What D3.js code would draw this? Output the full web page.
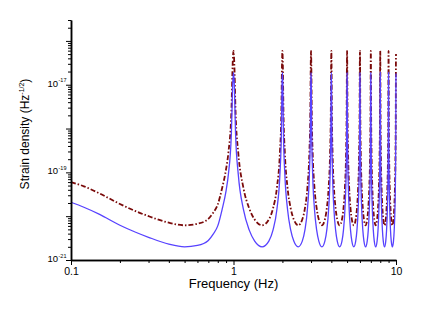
<!DOCTYPE html>
<html>
<head>
<meta charset="utf-8">
<script src="https://cdn.jsdelivr.net/npm/d3@7"></script>
<style>
  body { margin: 0; background: #fff; }
  text { font-family: "Liberation Sans", Arial, sans-serif; }
</style>
</head>
<body>
<div id="chart"></div>
<script>
// frequency samples (Hz)
const freq = [
  0.1, 0.12, 0.15, 0.2, 0.25, 0.3, 0.4, 0.5, 0.6, 0.7, 0.75, 0.8, 0.85, 0.9, 0.93, 0.97, 0.99, 1,
  1.01, 1.03, 1.07, 1.15, 1.25, 1.35, 1.5, 1.65, 1.75, 1.85, 1.93, 1.97, 1.99, 2,
  2.01, 2.03, 2.07, 2.15, 2.25, 2.35, 2.5, 2.65, 2.75, 2.85, 2.93, 2.97, 2.99, 3,
  3.01, 3.03, 3.07, 3.15, 3.25, 3.35, 3.5, 3.65, 3.75, 3.85, 3.93, 3.97, 3.99, 4,
  4.01, 4.03, 4.07, 4.15, 4.25, 4.35, 4.5, 4.65, 4.75, 4.85, 4.93, 4.97, 4.99, 5,
  5.01, 5.03, 5.07, 5.15, 5.25, 5.35, 5.5, 5.65, 5.75, 5.85, 5.93, 5.97, 5.99, 6,
  6.01, 6.03, 6.07, 6.15, 6.25, 6.35, 6.5, 6.65, 6.75, 6.85, 6.93, 6.97, 6.99, 7,
  7.01, 7.03, 7.07, 7.15, 7.25, 7.35, 7.5, 7.65, 7.75, 7.85, 7.93, 7.97, 7.99, 8,
  8.01, 8.03, 8.07, 8.15, 8.25, 8.35, 8.5, 8.65, 8.75, 8.85, 8.93, 8.97, 8.99, 9,
  9.01, 9.03, 9.07, 9.15, 9.25, 9.35, 9.5, 9.65, 9.75, 9.85, 9.93, 9.97, 9.99, 10
];

// solid blue curve
const strainBlue = [
  2.08e-20, 1.6e-20, 1.1e-20, 6.2e-21, 4.3e-21, 3.3e-21, 2.3e-21, 2.0e-21, 2.15e-21, 2.8e-21, 3.9e-21, 6e-21, 1.4e-20, 3.8e-20, 9e-20, 7.4e-19, 1.14e-17, 1.9e-17,
  1.14e-17, 7.4e-19, 9e-20, 1.44e-20, 4.8e-21, 2.7e-21, 2e-21, 2.7e-21, 4.8e-21, 1.44e-20, 9e-20, 7.4e-19, 1.14e-17, 1.9e-17,
  1.14e-17, 7.4e-19, 9e-20, 1.44e-20, 4.8e-21, 2.7e-21, 2e-21, 2.7e-21, 4.8e-21, 1.44e-20, 9e-20, 7.4e-19, 1.14e-17, 1.9e-17,
  1.14e-17, 7.4e-19, 9e-20, 1.44e-20, 4.8e-21, 2.7e-21, 2e-21, 2.7e-21, 4.8e-21, 1.44e-20, 9e-20, 7.4e-19, 1.14e-17, 1.9e-17,
  1.14e-17, 7.4e-19, 9e-20, 1.44e-20, 4.8e-21, 2.7e-21, 2e-21, 2.7e-21, 4.8e-21, 1.44e-20, 9e-20, 7.4e-19, 1.14e-17, 1.9e-17,
  1.14e-17, 7.4e-19, 9e-20, 1.44e-20, 4.8e-21, 2.7e-21, 2e-21, 2.7e-21, 4.8e-21, 1.44e-20, 9e-20, 7.4e-19, 1.14e-17, 1.9e-17,
  1.14e-17, 7.4e-19, 9e-20, 1.44e-20, 4.8e-21, 2.7e-21, 2e-21, 2.7e-21, 4.8e-21, 1.44e-20, 9e-20, 7.4e-19, 1.14e-17, 1.9e-17,
  1.14e-17, 7.4e-19, 9e-20, 1.44e-20, 4.8e-21, 2.7e-21, 2e-21, 2.7e-21, 4.8e-21, 1.44e-20, 9e-20, 7.4e-19, 1.14e-17, 1.9e-17,
  1.14e-17, 7.4e-19, 9e-20, 1.44e-20, 4.8e-21, 2.7e-21, 2e-21, 2.7e-21, 4.8e-21, 1.44e-20, 9e-20, 7.4e-19, 1.14e-17, 1.9e-17,
  1.14e-17, 7.4e-19, 9e-20, 1.44e-20, 4.8e-21, 2.7e-21, 2e-21, 2.7e-21, 4.8e-21, 1.44e-20, 9e-20, 7.4e-19, 1.14e-17, 1.8e-17
];

// dash-dot dark red curve
const strainRed = [
  6.0e-20, 4.8e-20, 3.3e-20, 1.9e-20, 1.3e-20, 1.0e-20, 7.1e-21, 6.2e-21, 6.7e-21, 8.7e-21, 1.2e-20, 1.85e-20, 4.3e-20, 1.18e-19, 2.8e-19, 2.3e-18, 3.5e-17, 5.9e-17,
  3.5e-17, 2.3e-18, 2.8e-19, 4.5e-20, 1.5e-20, 8.4e-21, 6.2e-21, 8.4e-21, 1.5e-20, 4.5e-20, 2.8e-19, 2.3e-18, 3.5e-17, 5.9e-17,
  3.5e-17, 2.3e-18, 2.8e-19, 4.5e-20, 1.5e-20, 8.4e-21, 6.2e-21, 8.4e-21, 1.5e-20, 4.5e-20, 2.8e-19, 2.3e-18, 3.5e-17, 5.9e-17,
  3.5e-17, 2.3e-18, 2.8e-19, 4.5e-20, 1.5e-20, 8.4e-21, 6.2e-21, 8.4e-21, 1.5e-20, 4.5e-20, 2.8e-19, 2.3e-18, 3.5e-17, 5.9e-17,
  3.5e-17, 2.3e-18, 2.8e-19, 4.5e-20, 1.5e-20, 8.4e-21, 6.2e-21, 8.4e-21, 1.5e-20, 4.5e-20, 2.8e-19, 2.3e-18, 3.5e-17, 5.9e-17,
  3.5e-17, 2.3e-18, 2.8e-19, 4.5e-20, 1.5e-20, 8.4e-21, 6.2e-21, 8.4e-21, 1.5e-20, 4.5e-20, 2.8e-19, 2.3e-18, 3.5e-17, 5.9e-17,
  3.5e-17, 2.3e-18, 2.8e-19, 4.5e-20, 1.5e-20, 8.4e-21, 6.2e-21, 8.4e-21, 1.5e-20, 4.5e-20, 2.8e-19, 2.3e-18, 3.5e-17, 5.9e-17,
  3.5e-17, 2.3e-18, 2.8e-19, 4.5e-20, 1.5e-20, 8.4e-21, 6.2e-21, 8.4e-21, 1.5e-20, 4.5e-20, 2.8e-19, 2.3e-18, 3.5e-17, 5.9e-17,
  3.5e-17, 2.3e-18, 2.8e-19, 4.5e-20, 1.5e-20, 8.4e-21, 6.2e-21, 8.4e-21, 1.5e-20, 4.5e-20, 2.8e-19, 2.3e-18, 3.5e-17, 5.9e-17,
  3.5e-17, 2.3e-18, 2.8e-19, 4.5e-20, 1.5e-20, 8.4e-21, 6.2e-21, 8.4e-21, 1.5e-20, 4.5e-20, 2.8e-19, 2.3e-18, 3.5e-17, 5.0e-17
];

// tick labels
const xTickLabels = [0.1, 1, 10];
const yMajorTicks = [1e-21, 1e-20, 1e-19, 1e-18, 1e-17, 1e-16];
const yLabelExponents = [-21, -19, -17];

const width = 436, height = 311;
const margin = { left: 71, right: 40, top: 20, bottom: 51 };

const svg = d3.select('#chart')
    .append('svg')
    .attr('width', width)
    .attr('height', height)
    .style('background', '#fff');

const x = d3.scaleLog().domain([0.1, 10]).range([margin.left, width - margin.right]);
const y = d3.scaleLog().domain([1e-21, 3e-16]).range([height - margin.bottom, margin.top]);

// minor tick values
const xMinor = [];
[0.1, 1].forEach(d => { for (let k = 2; k <= 9; k++) xMinor.push(d * k); });
const yMinor = [];
yMajorTicks.forEach(d => { for (let k = 2; k <= 9; k++) if (d * k <= 3.01e-16) yMinor.push(d * k); });

const data = freq.map((f, i) => ({ f: f, blue: strainBlue[i], red: strainRed[i] }));

const lineRed = d3.line().x(d => x(d.f)).y(d => y(d.red)).curve(d3.curveMonotoneX);
const lineBlue = d3.line().x(d => x(d.f)).y(d => y(d.blue)).curve(d3.curveMonotoneX);

svg.append('path')
    .datum(data)
    .attr('d', lineRed)
    .attr('fill', 'none')
    .attr('stroke', '#7a0a0a')
    .attr('stroke-width', 1.8)
    .attr('stroke-dasharray', '5,2,1.5,2');

svg.append('path')
    .datum(data)
    .attr('d', lineBlue)
    .attr('fill', 'none')
    .attr('stroke', '#5742ff')
    .attr('stroke-width', 1.3);

// x axis
const xAxisMinor = svg.append('g')
    .attr('transform', `translate(0,${height - margin.bottom})`)
    .call(d3.axisBottom(x).tickValues(xMinor).tickSize(3).tickSizeOuter(0).tickFormat(''));
const xAxis = svg.append('g')
    .attr('transform', `translate(0,${height - margin.bottom})`)
    .call(d3.axisBottom(x).tickValues(xTickLabels).tickSize(5).tickSizeOuter(0).tickFormat(d => String(d)));
xAxis.selectAll('text')
    .attr('font-size', 10.5)
    .attr('fill', '#000')
    .attr('font-family', '"Liberation Sans", Arial, sans-serif');

// y axis
const yAxisMinor = svg.append('g')
    .attr('transform', `translate(${margin.left},0)`)
    .call(d3.axisLeft(y).tickValues(yMinor).tickSize(3).tickSizeOuter(0).tickFormat(''));
const yAxis = svg.append('g')
    .attr('transform', `translate(${margin.left},0)`)
    .call(d3.axisLeft(y).tickValues(yMajorTicks).tickSize(5).tickSizeOuter(0).tickFormat(''));

[xAxisMinor, xAxis, yAxisMinor, yAxis].forEach(g => {
    g.selectAll('path.domain').attr('stroke', '#000').attr('stroke-width', 1.5);
    g.selectAll('line').attr('stroke', '#000').attr('stroke-width', 1);
});

// y tick labels with superscript exponent
yLabelExponents.forEach(e => {
    const t = svg.append('text')
        .attr('x', 58)
        .attr('y', y(Math.pow(10, e)) + 2)
        .attr('text-anchor', 'end')
        .attr('font-size', 9.5);
    t.text('10');
    svg.append('text')
        .attr('x', 58.5)
        .attr('y', y(Math.pow(10, e)) - 2.5)
        .attr('font-size', 5.5)
        .text(String(e));
});

// axis titles
svg.append('text')
    .attr('x', (margin.left + width - margin.right) / 2)
    .attr('y', 288)
    .attr('text-anchor', 'middle')
    .attr('font-size', 13)
    .text('Frequency (Hz)');

const yTitle = svg.append('text')
    .attr('transform', 'translate(29,134) rotate(-90)')
    .attr('text-anchor', 'middle')
    .attr('font-size', 12);
yTitle.append('tspan').text('Strain density (Hz');
yTitle.append('tspan').attr('font-size', 7).attr('dy', -5).text('-1/2');
yTitle.append('tspan').attr('dy', 5).text(')');
</script>
</body>
</html>
